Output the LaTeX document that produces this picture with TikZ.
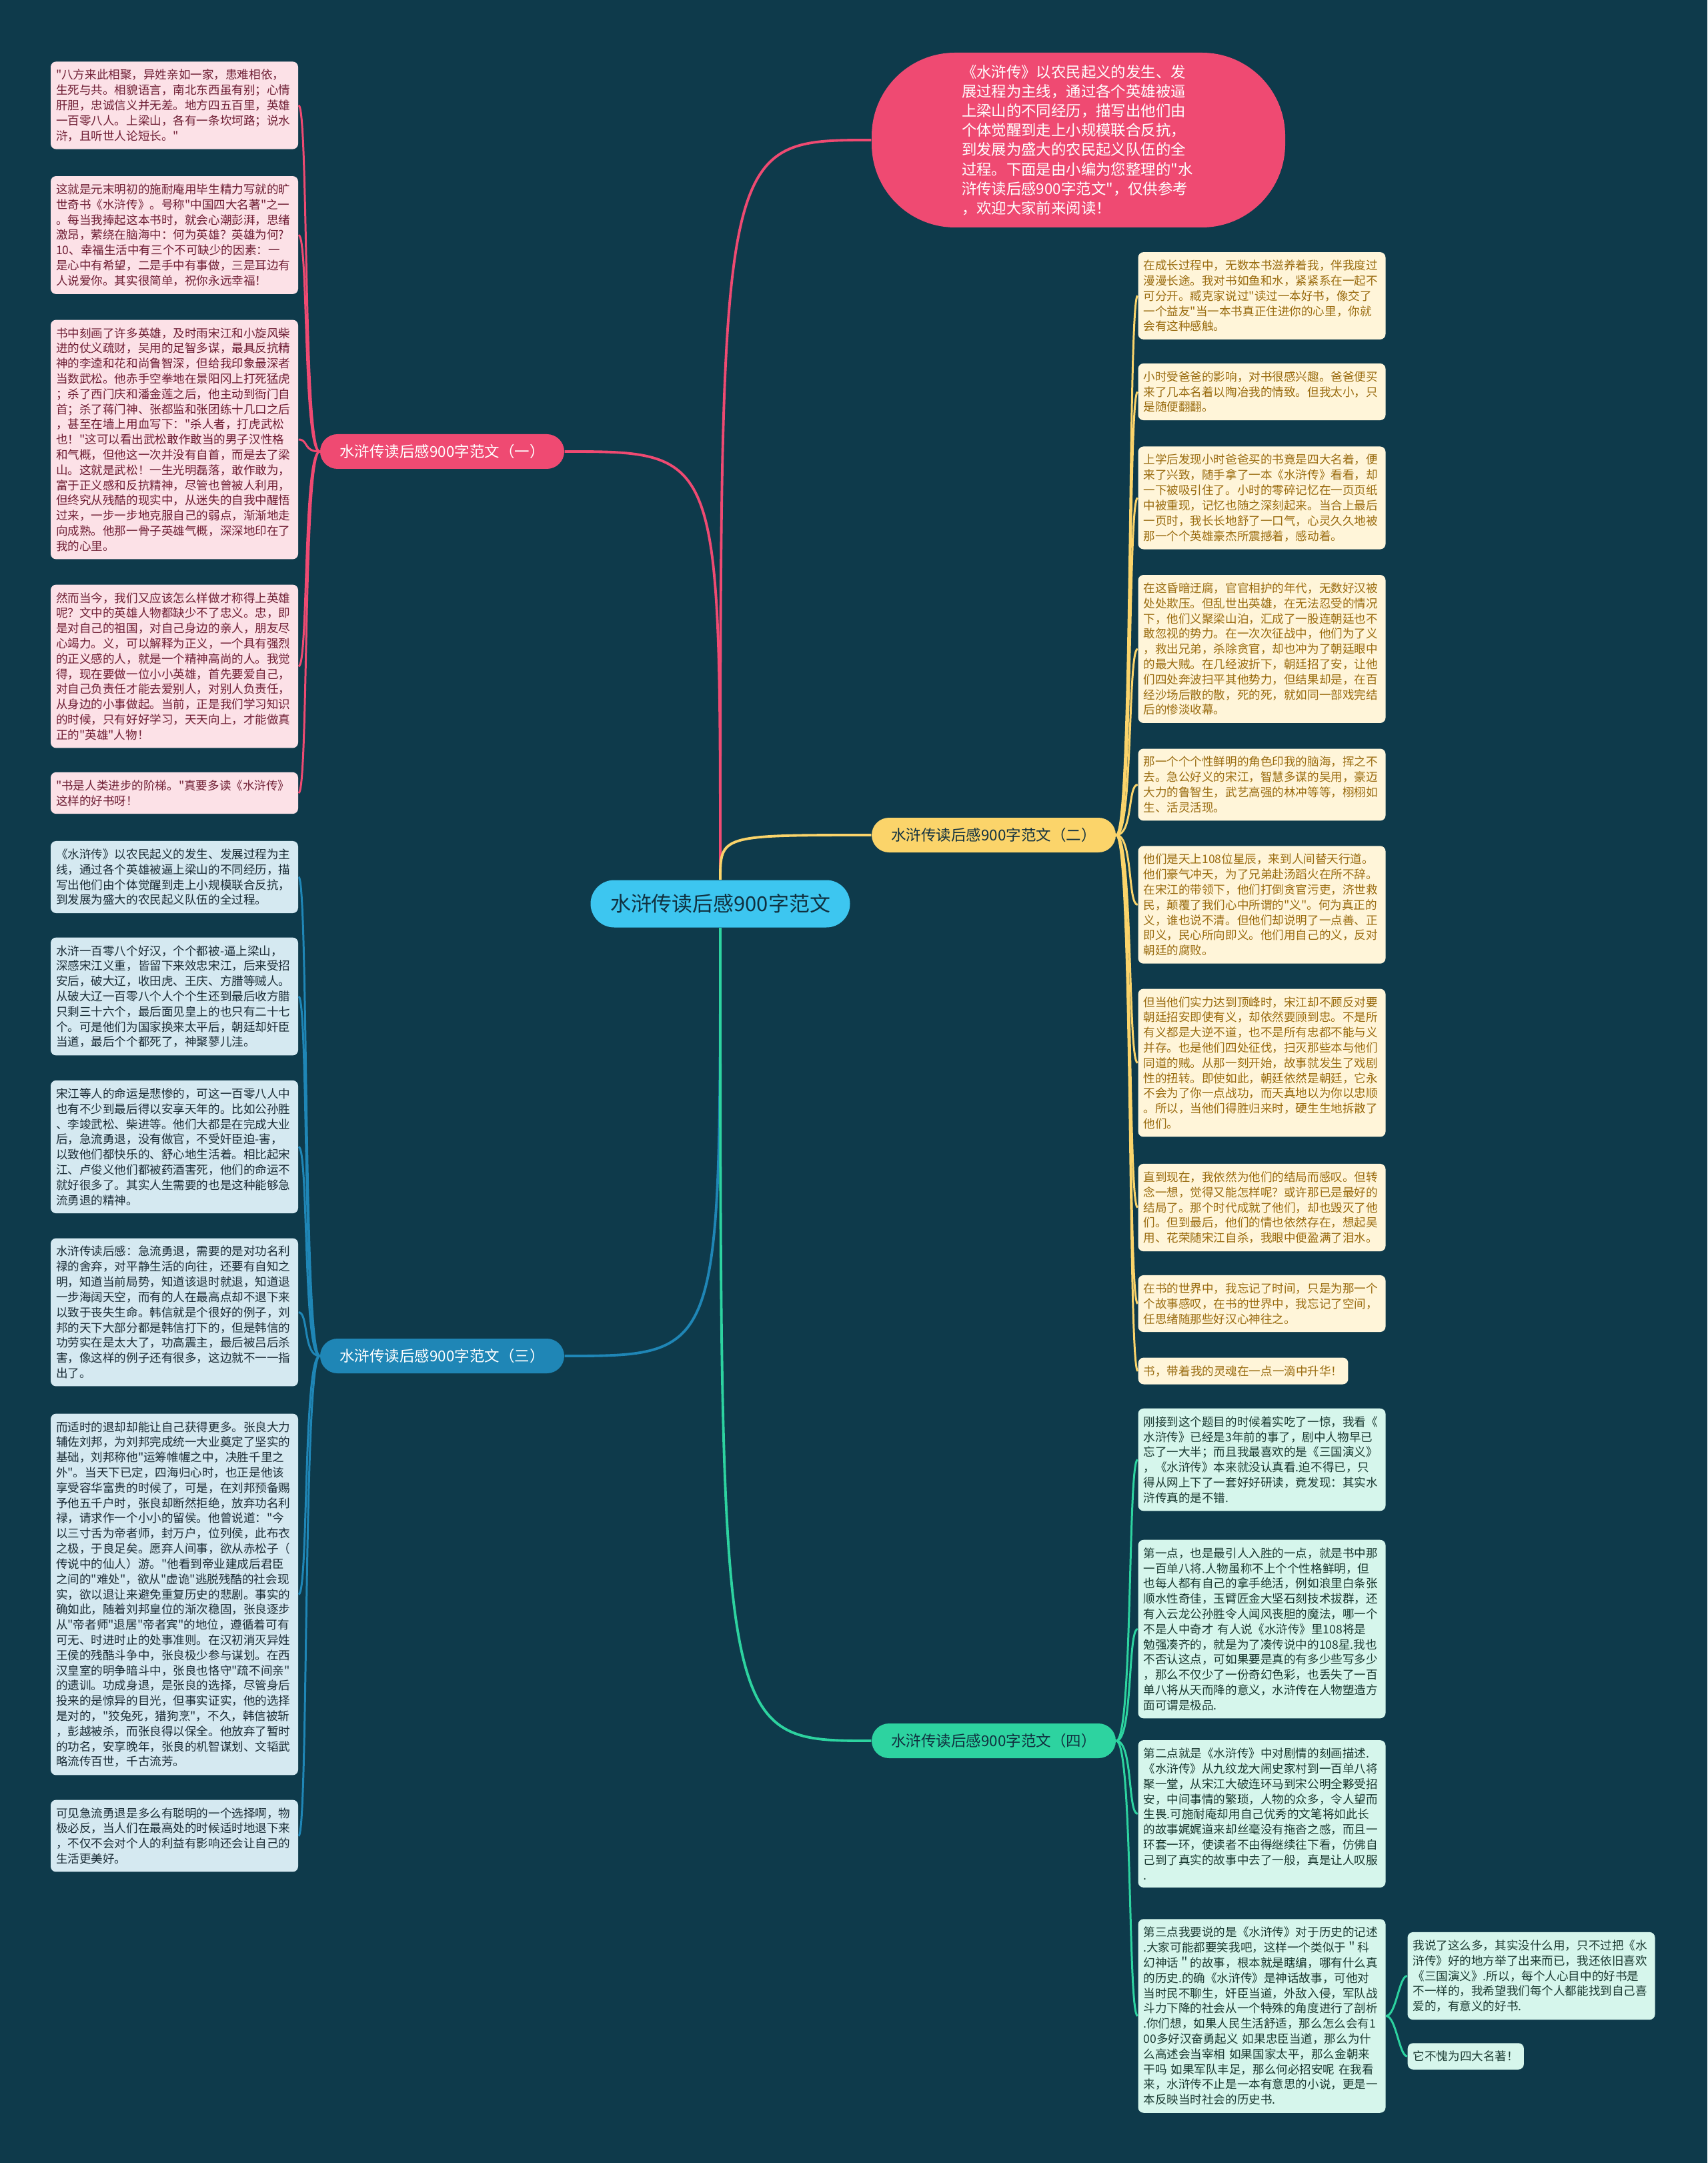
\documentclass[tikz,border=0pt]{standalone}
\usepackage{fontspec}
\newfontfamily\cjk{Noto Sans CJK SC}
\usepackage{xcolor}
\definecolor{bgc}{HTML}{0E3A4B}
\definecolor{pinkm}{HTML}{EF4A72}
\definecolor{pinkl}{HTML}{FCE1E7}
\definecolor{pinkt}{HTML}{6E1D33}
\definecolor{bluem}{HTML}{1F86B6}
\definecolor{bluel}{HTML}{D5E9F1}
\definecolor{bluet}{HTML}{1A2C36}
\definecolor{yelm}{HTML}{FBD46A}
\definecolor{yell}{HTML}{FFF5D9}
\definecolor{yelt}{HTML}{9A6C10}
\definecolor{grnm}{HTML}{2DD3A0}
\definecolor{grnl}{HTML}{D6F6EC}
\definecolor{grnt}{HTML}{1B3A32}
\definecolor{cyanm}{HTML}{3DC6F0}
\definecolor{darkt}{HTML}{10303F}

\begin{document}
\cjk
\begin{tikzpicture}[
  card/.style={rounded corners=2.3pt, align=left, inner xsep=0.08cm, inner ysep=3.3pt,
    font=\cjk\fontsize{5pt}{6.49pt}\selectfont},
  leaf/.style={card, text width=3.55cm},
  pk/.style={fill=pinkl, text=pinkt}, bl/.style={fill=bluel, text=bluet},
  yl/.style={fill=yell, text=yelt}, gr/.style={fill=grnl, text=grnt},
  branch/.style={rounded corners=0.26cm, minimum width=3.66cm, minimum height=0.52cm, inner sep=0pt,
    font=\cjk\fontsize{6.4pt}{7pt}\selectfont},
  main/.style={line width=1.1pt},
  lk/.style={line width=0.85pt}]
\useasboundingbox (0,0) rectangle (25.6,-32.43);
\fill[bgc] (0,0) rectangle (25.6,-32.43);

\node[fill=cyanm, text=darkt, rounded corners=0.355cm, minimum width=3.89cm, minimum height=0.71cm,
  font=\cjk\fontsize{8.8pt}{10pt}\selectfont] (C) at (10.80,-13.55) {水浒传读后感900字范文};
\node[fill=pinkm, text=white, rounded corners=1.25cm, minimum width=6.2cm, minimum height=2.62cm,
  text width=3.5cm, align=left, font=\cjk\fontsize{6.37pt}{8.3pt}\selectfont] (T) at (16.17,-2.10)
  {《水浒传》以农民起义的发生、发\\展过程为主线，通过各个英雄被逼\\上梁山的不同经历，描写出他们由\\个体觉醒到走上小规模联合反抗，\\到发展为盛大的农民起义队伍的全\\过程。下面是由小编为您整理的"水\\浒传读后感900字范文"，仅供参考\\，欢迎大家前来阅读！};
\node[branch, fill=pinkm, text=white] (B1) at (6.63,-6.77) {水浒传读后感900字范文（一）};
\node[branch, fill=yelm, text=darkt] (B2) at (14.90,-12.52) {水浒传读后感900字范文（二）};
\node[branch, fill=bluem, text=white] (B3) at (6.63,-20.33) {水浒传读后感900字范文（三）};
\node[branch, fill=grnm, text=darkt] (B4) at (14.90,-26.10) {水浒传读后感900字范文（四）};

\node[leaf, pk] (P1) at (2.615,-1.58) {"八方来此相聚，异姓亲如一家，患难相依，\\生死与共。相貌语言，南北东西虽有别；心情\\肝胆，忠诚信义并无差。地方四五百里，英雄\\一百零八人。上梁山，各有一条坎坷路；说水\\浒，且听世人论短长。"};
\node[leaf, pk] (P2) at (2.615,-3.525) {这就是元末明初的施耐庵用毕生精力写就的旷\\世奇书《水浒传》。号称"中国四大名著"之一\\。每当我捧起这本书时，就会心潮彭湃，思绪\\激昂，萦绕在脑海中：何为英雄？英雄为何?\\10、幸福生活中有三个不可缺少的因素：一\\是心中有希望，二是手中有事做，三是耳边有\\人说爱你。其实很简单，祝你永远幸福！};
\node[leaf, pk] (P3) at (2.615,-6.59) {书中刻画了许多英雄，及时雨宋江和小旋风柴\\进的仗义疏财，吴用的足智多谋，最具反抗精\\神的李逵和花和尚鲁智深，但给我印象最深者\\当数武松。他赤手空拳地在景阳冈上打死猛虎\\；杀了西门庆和潘金莲之后，他主动到衙门自\\首；杀了蒋门神、张都监和张团练十几口之后\\，甚至在墙上用血写下："杀人者，打虎武松\\也！"这可以看出武松敢作敢当的男子汉性格\\和气概，但他这一次并没有自首，而是去了梁\\山。这就是武松！一生光明磊落，敢作敢为，\\富于正义感和反抗精神，尽管也曾被人利用，\\但终究从残酷的现实中，从迷失的自我中醒悟\\过来，一步一步地克服自己的弱点，渐渐地走\\向成熟。他那一骨子英雄气概，深深地印在了\\我的心里。};
\node[leaf, pk] (P4) at (2.615,-9.99) {然而当今，我们又应该怎么样做才称得上英雄\\呢？文中的英雄人物都缺少不了忠义。忠，即\\是对自己的祖国，对自己身边的亲人，朋友尽\\心竭力。义，可以解释为正义，一个具有强烈\\的正义感的人，就是一个精神高尚的人。我觉\\得，现在要做一位小小英雄，首先要爱自己，\\对自己负责任才能去爱别人，对别人负责任，\\从身边的小事做起。当前，正是我们学习知识\\的时候，只有好好学习，天天向上，才能做真\\正的"英雄"人物！};
\node[leaf, pk] (P5) at (2.615,-11.89) {"书是人类进步的阶梯。"真要多读《水浒传》\\这样的好书呀！};

\node[leaf, bl] (Q1) at (2.615,-13.15) {《水浒传》以农民起义的发生、发展过程为主\\线，通过各个英雄被逼上梁山的不同经历，描\\写出他们由个体觉醒到走上小规模联合反抗，\\到发展为盛大的农民起义队伍的全过程。};
\node[leaf, bl] (Q2) at (2.615,-14.94) {水浒一百零八个好汉，个个都被-逼上梁山，\\深感宋江义重，皆留下来效忠宋江，后来受招\\安后，破大辽，收田虎、王庆、方腊等贼人。\\从破大辽一百零八个人个个生还到最后收方腊\\只剩三十六个，最后面见皇上的也只有二十七\\个。可是他们为国家换来太平后，朝廷却奸臣\\当道，最后个个都死了，神聚蓼儿洼。};
\node[leaf, bl] (Q3) at (2.615,-17.195) {宋江等人的命运是悲惨的，可这一百零八人中\\也有不少到最后得以安享天年的。比如公孙胜\\、李竣武松、柴进等。他们大都是在完成大业\\后，急流勇退，没有做官，不受奸臣迫-害，\\以致他们都快乐的、舒心地生活着。相比起宋\\江、卢俊义他们都被药酒害死，他们的命运不\\就好很多了。其实人生需要的也是这种能够急\\流勇退的精神。};
\node[leaf, bl] (Q4) at (2.615,-19.675) {水浒传读后感：急流勇退，需要的是对功名利\\禄的舍弃，对平静生活的向往，还要有自知之\\明，知道当前局势，知道该退时就退，知道退\\一步海阔天空，而有的人在最高点却不退下来\\以致于丧失生命。韩信就是个很好的例子，刘\\邦的天下大部分都是韩信打下的，但是韩信的\\功劳实在是太大了，功高震主，最后被吕后杀\\害，像这样的例子还有很多，这边就不一一指\\出了。};
\node[leaf, bl] (Q5) at (2.615,-23.905) {而适时的退却却能让自己获得更多。张良大力\\辅佐刘邦，为刘邦完成统一大业奠定了坚实的\\基础，刘邦称他"运筹帷幄之中，决胜千里之\\外"。当天下已定，四海归心时，也正是他该\\享受容华富贵的时候了，可是，在刘邦预备赐\\予他五千户时，张良却断然拒绝，放弃功名利\\禄，请求作一个小小的留侯。他曾说道："今\\以三寸舌为帝者师，封万户，位列侯，此布衣\\之极，于良足矣。愿弃人间事，欲从赤松子（\\传说中的仙人）游。"他看到帝业建成后君臣\\之间的"难处"，欲从"虚诡"逃脱残酷的社会现\\实，欲以退让来避免重复历史的悲剧。事实的\\确如此，随着刘邦皇位的渐次稳固，张良逐步\\从"帝者师"退居"帝者宾"的地位，遵循着可有\\可无、时进时止的处事准则。在汉初消灭异姓\\王侯的残酷斗争中，张良极少参与谋划。在西\\汉皇室的明争暗斗中，张良也恪守"疏不间亲"\\的遗训。功成身退，是张良的选择，尽管身后\\投来的是惊异的目光，但事实证实，他的选择\\是对的，"狡兔死，猎狗烹"，不久，韩信被斩\\，彭越被杀，而张良得以保全。他放弃了暂时\\的功名，安享晚年，张良的机智谋划、文韬武\\略流传百世，千古流芳。};
\node[leaf, bl] (Q6) at (2.615,-27.525) {可见急流勇退是多么有聪明的一个选择啊，物\\极必反，当人们在最高处的时候适时地退下来\\，不仅不会对个人的利益有影响还会让自己的\\生活更美好。};

\node[leaf, yl] (Y1) at (18.92,-4.435) {在成长过程中，无数本书滋养着我，伴我度过\\漫漫长途。我对书如鱼和水，紧紧系在一起不\\可分开。臧克家说过"读过一本好书，像交了\\一个益友"当一本书真正住进你的心里，你就\\会有这种感触。};
\node[leaf, yl] (Y2) at (18.92,-5.875) {小时受爸爸的影响，对书很感兴趣。爸爸便买\\来了几本名着以陶冶我的情致。但我太小，只\\是随便翻翻。};
\node[leaf, yl] (Y3) at (18.92,-7.465) {上学后发现小时爸爸买的书竟是四大名着，便\\来了兴致，随手拿了一本《水浒传》看看，却\\一下被吸引住了。小时的零碎记忆在一页页纸\\中被重现，记忆也随之深刻起来。当合上最后\\一页时，我长长地舒了一口气，心灵久久地被\\那一个个英雄豪杰所震撼着，感动着。};
\node[leaf, yl] (Y4) at (18.92,-9.73) {在这昏暗迂腐，官官相护的年代，无数好汉被\\处处欺压。但乱世出英雄，在无法忍受的情况\\下，他们义聚梁山泊，汇成了一股连朝廷也不\\敢忽视的势力。在一次次征战中，他们为了义\\，救出兄弟，杀除贪官，却也冲为了朝廷眼中\\的最大贼。在几经波折下，朝廷招了安，让他\\们四处奔波扫平其他势力，但结果却是，在百\\经沙场后散的散，死的死，就如同一部戏完结\\后的惨淡收幕。};
\node[leaf, yl] (Y5) at (18.92,-11.765) {那一个个个性鲜明的角色印我的脑海，挥之不\\去。急公好义的宋江，智慧多谋的吴用，豪迈\\大力的鲁智生，武艺高强的林冲等等，栩栩如\\生、活灵活现。};
\node[leaf, yl] (Y6) at (18.92,-13.565) {他们是天上108位星辰，来到人间替天行道。\\他们豪气冲天，为了兄弟赴汤蹈火在所不辞。\\在宋江的带领下，他们打倒贪官污吏，济世救\\民，颠覆了我们心中所谓的"义"。何为真正的\\义，谁也说不清。但他们却说明了一点善、正\\即义，民心所向即义。他们用自己的义，反对\\朝廷的腐败。};
\node[leaf, yl] (Y7) at (18.92,-15.935) {但当他们实力达到顶峰时，宋江却不顾反对要\\朝廷招安即使有义，却依然要顾到忠。不是所\\有义都是大逆不道，也不是所有忠都不能与义\\并存。也是他们四处征伐，扫灭那些本与他们\\同道的贼。从那一刻开始，故事就发生了戏剧\\性的扭转。即使如此，朝廷依然是朝廷，它永\\不会为了你一点战功，而天真地以为你以忠顺\\。所以，当他们得胜归来时，硬生生地拆散了\\他们。};
\node[leaf, yl] (Y8) at (18.92,-18.105) {直到现在，我依然为他们的结局而感叹。但转\\念一想，觉得又能怎样呢？或许那已是最好的\\结局了。那个时代成就了他们，却也毁灭了他\\们。但到最后，他们的情也依然存在，想起吴\\用、花荣随宋江自杀，我眼中便盈满了泪水。};
\node[leaf, yl] (Y9) at (18.92,-19.545) {在书的世界中，我忘记了时间，只是为那一个\\个故事感叹，在书的世界中，我忘记了空间，\\任思绪随那些好汉心神往之。};
\node[card, yl, anchor=west] (Y10) at (17.06,-20.555) {书，带着我的灵魂在一点一滴中升华！};

\node[leaf, gr] (G1) at (18.92,-21.885) {刚接到这个题目的时候着实吃了一惊，我看《\\水浒传》已经是3年前的事了，剧中人物早已\\忘了一大半；而且我最喜欢的是《三国演义》\\，《水浒传》本来就没认真看.迫不得已，只\\得从网上下了一套好好研读，竟发现：其实水\\浒传真的是不错.};
\node[leaf, gr] (G2) at (18.92,-24.425) {第一点，也是最引人入胜的一点，就是书中那\\一百单八将.人物虽称不上个个性格鲜明，但\\也每人都有自己的拿手绝活，例如浪里白条张\\顺水性奇佳，玉臂匠金大坚石刻技术拔群，还\\有入云龙公孙胜令人闻风丧胆的魔法，哪一个\\不是人中奇才~有人说《水浒传》里108将是\\勉强凑齐的，就是为了凑传说中的108星.我也\\不否认这点，可如果要是真的有多少些写多少\\，那么不仅少了一份奇幻色彩，也丢失了一百\\单八将从天而降的意义，水浒传在人物塑造方\\面可谓是极品.};
\node[leaf, gr] (G3) at (18.92,-27.195) {第二点就是《水浒传》中对剧情的刻画描述.\\《水浒传》从九纹龙大闹史家村到一百单八将\\聚一堂，从宋江大破连环马到宋公明全夥受招\\安，中间事情的繁琐，人物的众多，令人望而\\生畏.可施耐庵却用自己优秀的文笔将如此长\\的故事娓娓道来却丝毫没有拖沓之感，而且一\\环套一环，使读者不由得继续往下看，仿佛自\\己到了真实的故事中去了一般，真是让人叹服\\.};
\node[leaf, gr] (G4) at (18.92,-30.225) {第三点我要说的是《水浒传》对于历史的记述\\.大家可能都要笑我吧，这样一个类似于＂科\\幻神话＂的故事，根本就是瞎编，哪有什么真\\的历史.的确《水浒传》是神话故事，可他对\\当时民不聊生，奸臣当道，外敌入侵，军队战\\斗力下降的社会从一个特殊的角度进行了剖析\\.你们想，如果人民生活舒适，那么怎么会有1\\00多好汉奋勇起义~如果忠臣当道，那么为什\\么高述会当宰相~如果国家太平，那么金朝来\\干吗~如果军队丰足，那么何必招安呢~在我看\\来，水浒传不止是一本有意思的小说，更是一\\本反映当时社会的历史书.};
\node[leaf, gr] (H1) at (22.96,-29.625) {我说了这么多，其实没什么用，只不过把《水\\浒传》好的地方举了出来而已，我还依旧喜欢\\《三国演义》.所以，每个人心目中的好书是\\不一样的，我希望我们每个人都能找到自己喜\\爱的，有意义的好书.};
\node[card, gr, anchor=west] (H2) at (21.10,-30.83) {它不愧为四大名著！};

\draw[main, pinkm] (C.north) .. controls (C.north |- T.west) .. (T.west);
\draw[main, pinkm] (C.north) .. controls (C.north |- B1.east) .. (B1.east);
\draw[main, yelm] (C.north) .. controls (C.north |- B2.west) .. (B2.west);
\draw[main, bluem] (C.south) .. controls (C.south |- B3.east) .. (B3.east);
\draw[main, grnm] (C.south) .. controls (C.south |- B4.west) .. (B4.west);
\foreach \n in {P1,P2,P3,P4,P5}
  \draw[lk, pinkm] (B1.west) .. controls +(-0.25,0) and +(0.15,0) .. (\n.east);
\foreach \n in {Q1,Q2,Q3,Q4,Q5,Q6}
  \draw[lk, bluem] (B3.west) .. controls +(-0.25,0) and +(0.15,0) .. (\n.east);
\foreach \n in {Y1,Y2,Y3,Y4,Y5,Y6,Y7,Y8,Y9,Y10}
  \draw[lk, yelm] (B2.east) .. controls +(0.25,0) and +(-0.15,0) .. (\n.west);
\foreach \n in {G1,G2,G3,G4}
  \draw[lk, grnm] (B4.east) .. controls +(0.25,0) and +(-0.15,0) .. (\n.west);
\foreach \n in {H1,H2}
  \draw[lk, grnm] (G4.east) .. controls +(0.15,0) and +(-0.12,0) .. (\n.west);
\end{tikzpicture}
\end{document}
